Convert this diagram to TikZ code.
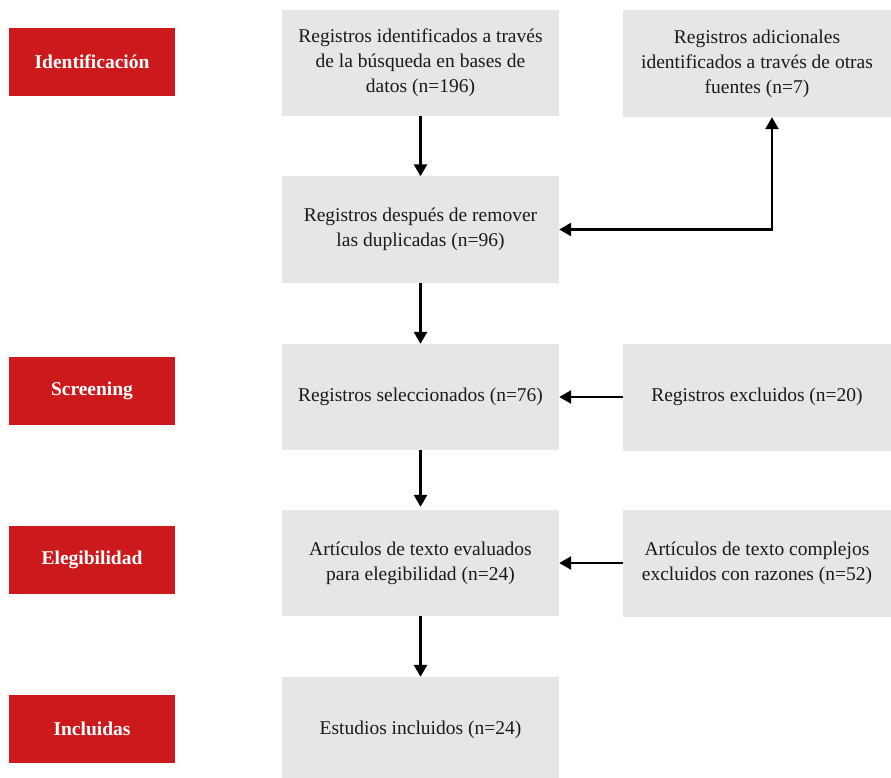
\documentclass[tikz,border=0pt]{standalone}
\usepackage{fontspec}
\setmainfont{Liberation Serif}
\usepackage{xcolor}
\definecolor{cRed}{HTML}{CC1A1C}
\definecolor{cBox}{HTML}{E6E6E6}
\definecolor{cText}{HTML}{1A1A1A}
\usepackage{tikz}
\usetikzlibrary{positioning,arrows.meta,calc}
\tikzset{
  node-stage/.style={fill=cRed,text=white,inner sep=0pt,
    minimum width=166pt,minimum height=68pt,align=center,
    font=\fontsize{19.5}{24}\selectfont\bfseries},
  node-main/.style={fill=cBox,text=cText,inner sep=0pt,
    minimum width=277pt,minimum height=106pt,align=center,
    font=\fontsize{19.5}{25}\selectfont},
  node-side/.style={node-main,minimum width=268pt,minimum height=107pt},
  arrow/.style={-{Triangle[length=12pt,width=13pt]},line width=2.6pt,draw=black},
  arrow-both/.style={{Triangle[length=12pt,width=13pt]}-{Triangle[length=12pt,width=13pt]},
    line width=2.6pt,draw=black},
}
\begin{document}
\begin{tikzpicture}[x=1pt,y=-1pt]
  \useasboundingbox (0,0) rectangle (891,778);
  % etapas
  \node[node-stage] (idn) at (92,62)  {Identificación};
  \node[node-stage] (scr) at (92,391) {Screening};
  \node[node-stage] (eleg) at (92,560) {Elegibilidad};
  \node[node-stage] (incl) at (92,729) {Incluidas};
  % columna central
  \node[node-main] (busq) at (420.5,63)  {Registros identificados a través\\de la búsqueda en bases de\\datos (n=196)};
  \node[node-main] (dup)  at (420.5,229.5) {Registros después de remover\\las duplicadas (n=96)};
  \node[node-main] (sel)  at (420.5,397) {Registros seleccionados (n=76)};
  \node[node-main] (eval) at (420.5,563) {Artículos de texto evaluados\\para elegibilidad (n=24)};
  \node[node-main] (estu) at (420.5,730) {Estudios incluidos (n=24)};
  % columna derecha
  \node[node-side] (otras) at (757,63.5) {Registros adicionales\\identificados a través de otras\\fuentes (n=7)};
  \node[node-side] (excl)  at (757,397)  {Registros excluidos (n=20)};
  \node[node-side] (razon) at (757,563)  {Artículos de texto complejos\\excluidos con razones (n=52)};
  \coordinate (bend) at (772,231);
  % flechas
  \draw[arrow] (busq) -- (dup);
  \draw[arrow] (dup) -- (sel);
  \draw[arrow,shorten >=3pt] (sel) -- (eval);
  \draw[arrow] (eval) -- (estu);
  \draw[arrow-both] (otras.south -| bend) |- (dup.east);
  \draw[arrow] (excl) -- (sel);
  \draw[arrow] (razon) -- (eval);
\end{tikzpicture}
\end{document}
